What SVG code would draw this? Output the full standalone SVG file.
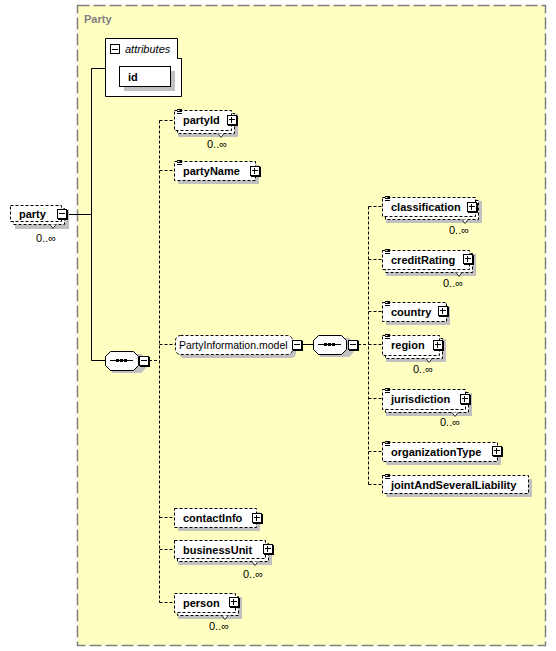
<svg xmlns="http://www.w3.org/2000/svg" width="556" height="651" viewBox="0 0 556 651">
<defs>
<style>
.frame{fill:#ffffc2;stroke:#808080;stroke-width:1.5;stroke-dasharray:12 4}
.title{font:bold 11px "Liberation Sans",Arial,sans-serif;fill:#808080}
.box{fill:#fff;stroke:#000;stroke-width:1;stroke-dasharray:3 2}
.sbox{fill:#fff;stroke:#000;stroke-width:1}
.sh{fill:#c0c0c0}
.lbl{font:bold 11px "Liberation Sans",Arial,sans-serif;fill:#000}
.txt{font:11px "Liberation Sans",Arial,sans-serif;fill:#000}
.mdl{font:10.5px "Liberation Sans",Arial,sans-serif;fill:#000}
.ital{font:italic 11px "Liberation Sans",Arial,sans-serif;fill:#000}
.solid{stroke:#000;stroke-width:1;fill:none}
.dash{stroke:#000;stroke-width:1;fill:none;stroke-dasharray:3 2}
.doc{stroke:#000;stroke-width:1;fill:none}
.v{stroke:#000;stroke-width:0.8;fill:#fff}
</style>
<g id="plusIco"><rect x="1" y="1" width="10" height="10" fill="#000"/><rect x="0.5" y="0.5" width="9" height="9" fill="#fff" stroke="#000"/><path d="M2 4.5H8M4.5 2V8" stroke="#000"/></g>
<g id="minusIco"><rect x="1" y="1" width="10" height="10" fill="#000"/><rect x="0.5" y="0.5" width="9" height="9" fill="#fff" stroke="#000"/><path d="M2 4.5H8" stroke="#000"/></g>
</defs>

<g id="Party">
<rect class="frame" x="77.5" y="5.5" width="468" height="640"/>
<text class="title" x="84" y="23">Party</text>
</g>

<g id="connectors">
<path class="solid" d="M67 214.5H91.5M91.5 68.5V360.5M91.5 68.5H105M91.5 360.5H105"/>
<path class="dash" d="M149 360.5H159.5M159.5 120.5V602.5M159.5 120.5H174M159.5 170.5H174M159.5 344.5H175M159.5 517.5H174M159.5 549.5H174M159.5 602.5H174"/>
<path class="solid" d="M302 344.5H313"/>
<path class="dash" d="M358 344.5H368.5M368.5 206.5V484.5M368.5 206.5H382M368.5 259.5H382M368.5 311.5H382M368.5 344.5H382M368.5 398.5H382M368.5 451.5H382M368.5 484.5H382"/>
</g>

<g id="party">
<rect class="sh" x="15" y="210" width="54" height="19"/>
<rect class="box" x="13.5" y="208.5" width="51" height="16"/>
<rect class="box" x="10.5" y="205.5" width="51" height="16"/>
<text class="lbl" x="19" y="217.5">party</text>
<use href="#minusIco" x="57" y="209"/>
<polyline class="v" points="50,224.5 53,228.5 56,224.5"/>
<text class="txt" x="36" y="242">0..∞</text>
</g>

<g id="attributes">
<polygon class="sbox" points="105.5,38.5 177.5,38.5 177.5,58.5 181.5,58.5 181.5,96.5 105.5,96.5"/>
<rect x="110.5" y="44.5" width="9" height="9" fill="#fff" stroke="#000"/>
<path d="M112 49.5H118" stroke="#000"/>
<text class="ital" x="125" y="53">attributes</text>
</g>

<g id="id">
<rect class="sh" x="124" y="71" width="51" height="20"/>
<rect class="sbox" x="119.5" y="66.5" width="51" height="20"/>
<text class="lbl" x="128" y="80.5">id</text>
</g>

<g id="partyId">
<rect class="sh" x="178" y="114" width="60" height="23"/>
<rect class="box" x="177.5" y="113.5" width="57" height="20"/>
<rect class="box" x="174.5" y="110.5" width="57" height="20"/>
<path class="doc" d="M177 109.5H182M177 111.5H182M177 113.5H182"/>
<text class="lbl" x="183" y="124">partyId</text>
<use href="#plusIco" x="227" y="115"/>
<polyline class="v" points="218,133.5 221,137.5 224,133.5"/>
<text class="txt" x="207" y="147.5">0..∞</text>
</g>

<g id="partyName">
<rect class="sh" x="178" y="165" width="81" height="19"/>
<rect class="box" x="174.5" y="161.5" width="81" height="19"/>
<path class="doc" d="M177 160.5H182M177 162.5H182M177 164.5H182"/>
<text class="lbl" x="183" y="174.5">partyName</text>
<use href="#plusIco" x="250" y="166"/>
</g>

<g id="sequence1">
<path class="sh" d="M113 354H141L146 359V368L141 373H113L108 368V359Z"/>
<path class="sbox" d="M110.5 351.5H133.5L138.5 356.5V365.5L133.5 370.5H110.5L105.5 365.5V356.5Z"/>
<path d="M110 360.5H133" stroke="#000"/>
<rect x="116" y="359" width="3" height="3"/>
<rect x="120" y="359" width="3" height="3"/>
<rect x="124" y="359" width="3" height="3"/>
<use href="#minusIco" x="139" y="356"/>
</g>

<g id="PartyInformation.model">
<rect class="sh" x="179" y="339" width="117" height="19" rx="5"/>
<rect class="box" x="175.5" y="335.5" width="117" height="19" rx="5"/>
<text class="mdl" x="179" y="348.5">PartyInformation.model</text>
<use href="#minusIco" x="292" y="340"/>
</g>

<g id="sequence2">
<path class="sh" d="M321 338H349L354 343V352L349 357H321L316 352V343Z"/>
<path class="sbox" d="M318.5 335.5H341.5L346.5 340.5V349.5L341.5 354.5H318.5L313.5 349.5V340.5Z"/>
<path d="M318 344.5H341" stroke="#000"/>
<rect x="324" y="343" width="3" height="3"/>
<rect x="328" y="343" width="3" height="3"/>
<rect x="332" y="343" width="3" height="3"/>
<use href="#minusIco" x="348" y="340"/>
</g>

<g id="classification">
<rect class="sh" x="386" y="201" width="96" height="22"/>
<rect class="box" x="385.5" y="200.5" width="93" height="19"/>
<rect class="box" x="382.5" y="197.5" width="93" height="19"/>
<path class="doc" d="M385 196.5H390M385 198.5H390M385 200.5H390"/>
<text class="lbl" x="391" y="210.5">classification</text>
<use href="#plusIco" x="467" y="202"/>
<polyline class="v" points="462,219.5 465,223.5 468,219.5"/>
<text class="txt" x="449" y="234">0..∞</text>
</g>

<g id="creditRating">
<rect class="sh" x="386" y="254" width="90" height="22"/>
<rect class="box" x="385.5" y="253.5" width="87" height="19"/>
<rect class="box" x="382.5" y="250.5" width="87" height="19"/>
<path class="doc" d="M385 249.5H390M385 251.5H390M385 253.5H390"/>
<text class="lbl" x="391" y="263.5">creditRating</text>
<use href="#plusIco" x="463" y="254"/>
<polyline class="v" points="456,272.5 459,276.5 462,272.5"/>
<text class="txt" x="443" y="286.5">0..∞</text>
</g>

<g id="country">
<rect class="sh" x="386" y="306" width="64" height="19"/>
<rect class="box" x="382.5" y="302.5" width="64" height="19"/>
<path class="doc" d="M385 301.5H390M385 303.5H390M385 305.5H390"/>
<text class="lbl" x="391" y="315.5">country</text>
<use href="#plusIco" x="438" y="306"/>
</g>

<g id="region">
<rect class="sh" x="386" y="339" width="60" height="23"/>
<rect class="box" x="385.5" y="338.5" width="57" height="20"/>
<rect class="box" x="382.5" y="335.5" width="57" height="20"/>
<path class="doc" d="M385 334.5H390M385 336.5H390M385 338.5H390"/>
<text class="lbl" x="391" y="349">region</text>
<use href="#plusIco" x="433" y="340"/>
<polyline class="v" points="426,358.5 429,362.5 432,358.5"/>
<text class="txt" x="413" y="372.5">0..∞</text>
</g>

<g id="jurisdiction">
<rect class="sh" x="386" y="393" width="86" height="23"/>
<rect class="box" x="385.5" y="392.5" width="83" height="20"/>
<rect class="box" x="382.5" y="389.5" width="83" height="20"/>
<path class="doc" d="M385 388.5H390M385 390.5H390M385 392.5H390"/>
<text class="lbl" x="391" y="403">jurisdiction</text>
<use href="#plusIco" x="460" y="394"/>
<polyline class="v" points="452,412.5 455,416.5 458,412.5"/>
<text class="txt" x="440" y="426">0..∞</text>
</g>

<g id="organizationType">
<rect class="sh" x="386" y="446" width="115" height="19"/>
<rect class="box" x="382.5" y="442.5" width="115" height="19"/>
<path class="doc" d="M385 441.5H390M385 443.5H390M385 445.5H390"/>
<text class="lbl" x="391" y="455.5">organizationType</text>
<use href="#plusIco" x="492" y="446"/>
</g>

<g id="jointAndSeveralLiability">
<rect class="sh" x="386" y="479" width="146" height="18"/>
<rect class="box" x="382.5" y="475.5" width="146" height="18"/>
<path class="doc" d="M385 474.5H390M385 476.5H390M385 478.5H390"/>
<text class="lbl" x="391" y="488.5">jointAndSeveralLiability</text>
</g>

<g id="contactInfo">
<rect class="sh" x="178" y="512" width="82" height="19"/>
<rect class="box" x="174.5" y="508.5" width="82" height="19"/>
<text class="lbl" x="183" y="521.5">contactInfo</text>
<use href="#plusIco" x="252" y="513"/>
</g>

<g id="businessUnit">
<rect class="sh" x="178" y="544" width="94" height="21"/>
<rect class="box" x="177.5" y="543.5" width="91" height="18"/>
<rect class="box" x="174.5" y="540.5" width="91" height="18"/>
<text class="lbl" x="183" y="553.5">businessUnit</text>
<use href="#plusIco" x="263" y="544"/>
<polyline class="v" points="252,561.5 255,565.5 258,561.5"/>
<text class="txt" x="243" y="577.5">0..∞</text>
</g>

<g id="person">
<rect class="sh" x="178" y="597" width="64" height="22"/>
<rect class="box" x="177.5" y="596.5" width="61" height="19"/>
<rect class="box" x="174.5" y="593.5" width="61" height="19"/>
<text class="lbl" x="183" y="606.5">person</text>
<use href="#plusIco" x="229" y="597"/>
<polyline class="v" points="222,615.5 225,619.5 228,615.5"/>
<text class="txt" x="209" y="630">0..∞</text>
</g>
</svg>
